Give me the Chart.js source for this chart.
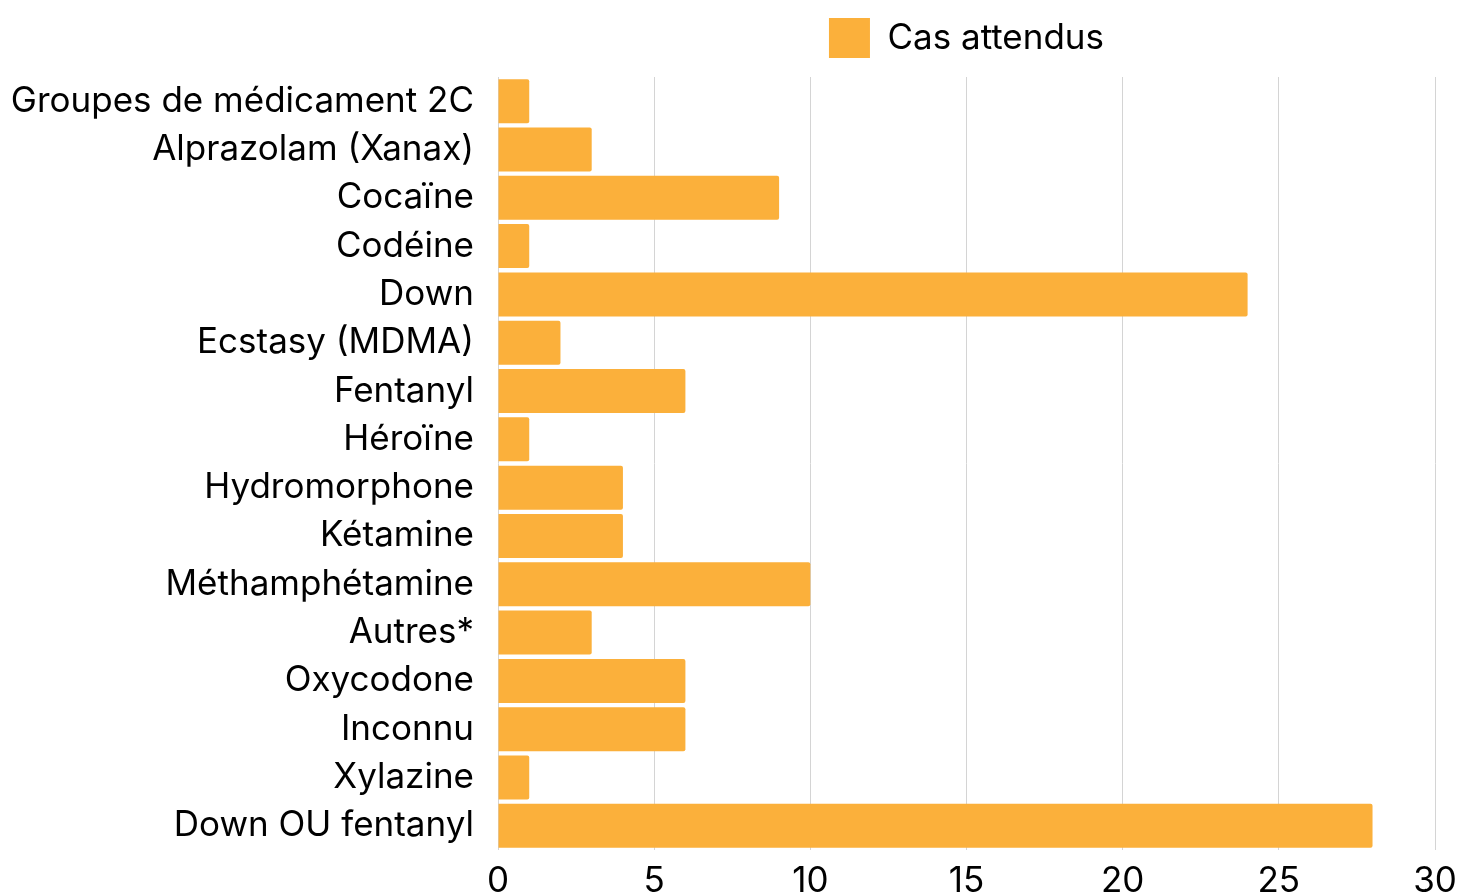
<!DOCTYPE html>
<html>
<head>
<meta charset="utf-8">
<script src="https://cdn.jsdelivr.net/npm/chart.js@4/dist/chart.umd.min.js"></script>
<style>
  html, body { margin: 0; padding: 0; background: #fff; }
  #wrap { width: 1460px; height: 895px; }
</style>
</head>
<body>
<div id="wrap"><canvas id="chart" width="1460" height="895"></canvas></div>
<script>
const categories = [
  'Groupes de médicament 2C', 'Alprazolam (Xanax)', 'Cocaïne', 'Codéine', 'Down',
  'Ecstasy (MDMA)', 'Fentanyl', 'Héroïne', 'Hydromorphone', 'Kétamine',
  'Méthamphétamine', 'Autres*', 'Oxycodone', 'Inconnu', 'Xylazine', 'Down OU fentanyl'
];
const casAttendus = [1, 3, 9, 1, 24, 2, 6, 1, 4, 4, 10, 3, 6, 6, 1, 28];
const seriesLabel = 'Cas attendus';
const xTicks = [0, 5, 10, 15, 20, 25, 30];

const font = { family: 'Inter', size: 35 };

// extra room between the legend and the plot
const legendGap = {
  id: 'legendGap',
  afterInit(chart) {
    const fit = chart.legend.fit;
    chart.legend.fit = function () {
      fit.call(this);
      this.height += 9;
    };
  }
};

new Chart(document.getElementById('chart').getContext('2d'), {
  type: 'bar',
  data: {
    labels: categories,
    datasets: [{
      label: seriesLabel,
      data: casAttendus,
      backgroundColor: '#FBB03B',
      borderRadius: 2,
      borderSkipped: 'start',
      barPercentage: 0.91,
      categoryPercentage: 1
    }]
  },
  options: {
    indexAxis: 'y',
    responsive: false,
    animation: false,
    layout: { padding: { top: 8, right: 25, left: 0, bottom: 0 } },
    plugins: {
      legend: {
        position: 'top',
        fullSize: false,
        labels: { font, color: '#000', boxWidth: 41, boxHeight: 40, padding: 10 }
      },
      tooltip: { enabled: false }
    },
    scales: {
      x: {
        min: 0, max: 30,
        afterBuildTicks: (axis) => { axis.ticks = xTicks.map(v => ({ value: v })); },
        afterFit: (axis) => {
          axis.height = 45;
          axis.paddingLeft = 0;
          axis.paddingRight = 0;
        },
        grid: { color: '#d4d4d4', lineWidth: 1, drawTicks: false },
        border: { display: false },
        ticks: { font: { family: 'Inter', size: 35, lineHeight: 1 }, color: '#000', padding: 14, maxRotation: 0 }
      },
      y: {
        afterFit: (axis) => { axis.width = 498; },
        grid: { display: false, drawTicks: false },
        border: { display: false },
        ticks: { font, color: '#000', padding: 24, autoSkip: false }
      }
    }
  },
  plugins: [legendGap]
});
</script>
</body>
</html>
